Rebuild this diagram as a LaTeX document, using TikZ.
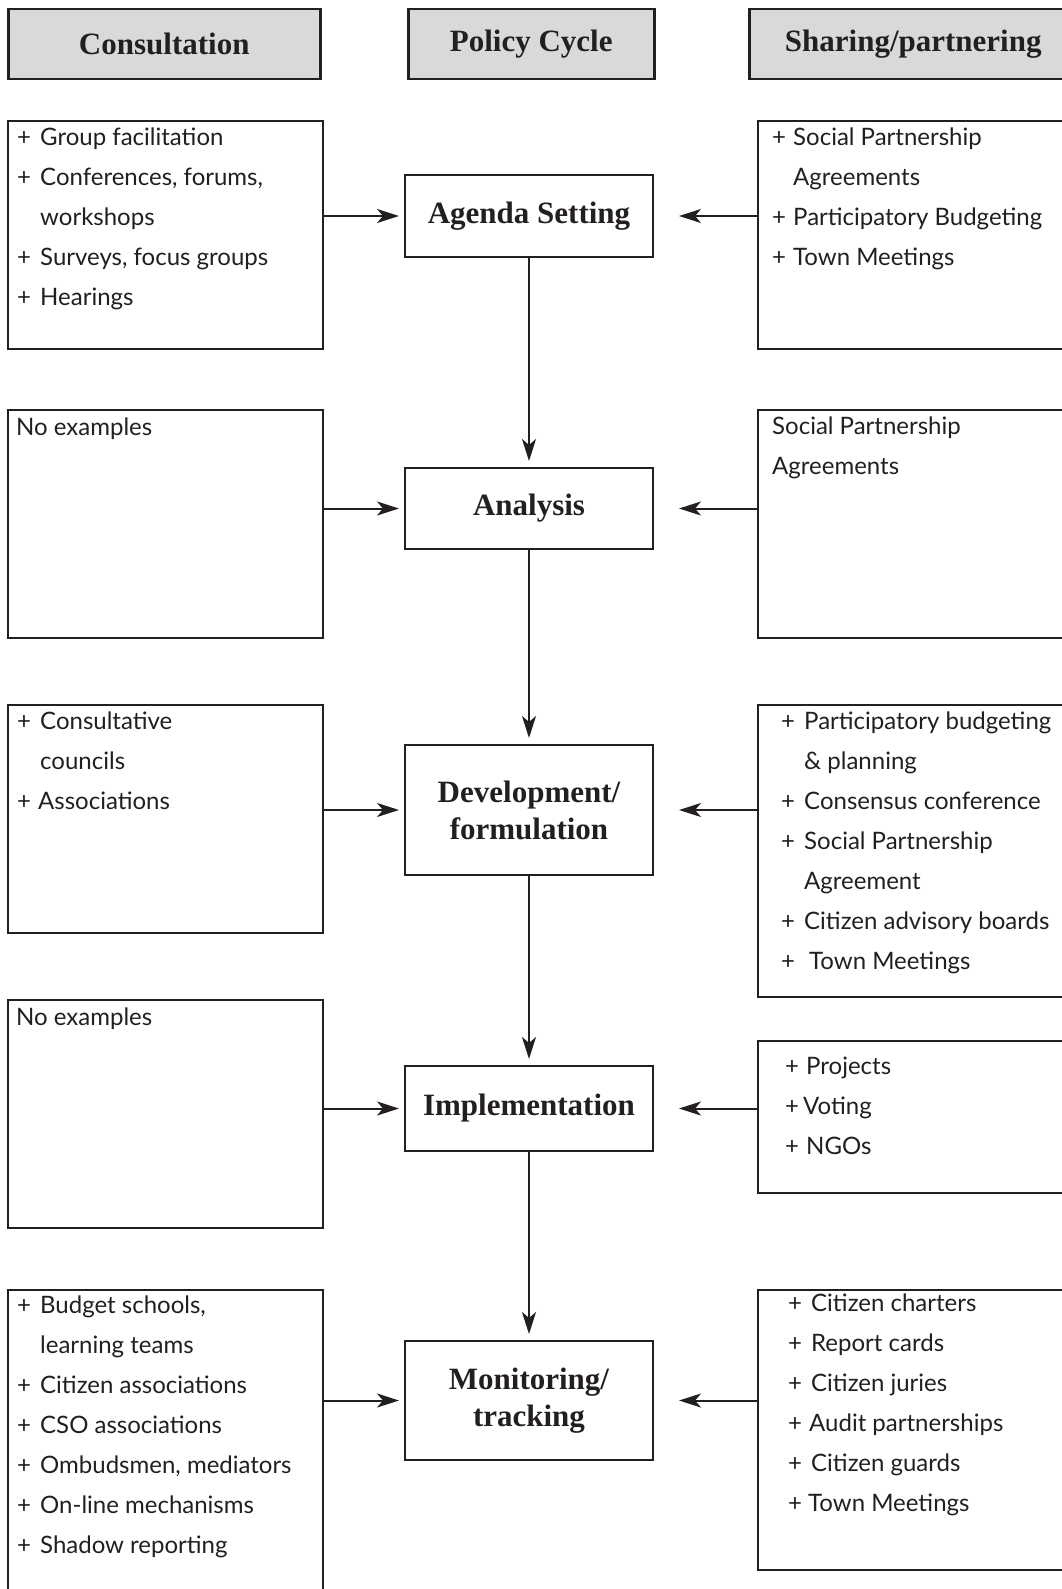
\documentclass[tikz,border=0pt]{standalone}
\usepackage{fontspec}
\newfontfamily\lato{Lato}
\newfontfamily\serifhd{Liberation Serif}
\usetikzlibrary{positioning,arrows.meta}
\definecolor{inkblack}{RGB}{35,31,32}
\definecolor{hdrgray}{RGB}{216,217,219}
\newcommand{\plusitem}[1][23pt]{\makebox[#1][l]{+}}
\newcommand{\indentline}[1][23pt]{\hspace*{#1}}
\tikzset{
  hdrbox/.style={draw=inkblack, line width=2.5pt, fill=hdrgray, inner sep=0pt, anchor=north west,
    text=inkblack, font=\serifhd\bfseries\fontsize{31}{37}\selectfont},
  stagebox/.style={draw=inkblack, line width=2pt, minimum width=248pt, inner sep=0pt, anchor=north,
    align=center, text=inkblack, font=\serifhd\bfseries\fontsize{31}{37}\selectfont},
  listbox/.style={draw=inkblack, line width=2pt, inner sep=0pt, anchor=north west},
  listtext/.style={anchor=north west, inner sep=0pt, align=left, text=inkblack,
    font=\lato\fontsize{24}{40}\selectfont, execute at begin node=\rule{0pt}{18.5pt}},
  arr/.style={draw=inkblack, line width=2pt, -{Stealth[length=22pt,width=14pt,inset=6pt]}}
}
\begin{document}
\begin{tikzpicture}[x=1pt,y=-1pt]
    \useasboundingbox (0,0) rectangle (1062,1589);
    \clip (0,0) rectangle (1062,1589);

    % Column headers
    \node[hdrbox, minimum width=312pt, minimum height=70pt] (hdrcons) at (7,8) {Consultation};
    \node[hdrbox, minimum width=246pt, minimum height=70pt] (hdrpolicy) at (407,8) {Policy Cycle};
    \node[hdrbox, minimum width=328pt, minimum height=70pt] (hdrshare) at (748,8) {Sharing/partnering};

    % Policy cycle stages
    \node[stagebox, minimum height=82pt] (agenda) at (529,174) {Agenda Setting};
    \node[stagebox, minimum height=81pt] (analysis) at (529,467) {Analysis};
    \node[stagebox, minimum height=130pt] (devel) at (529,744) {Development/\\formulation};
    \node[stagebox, minimum height=85pt] (implem) at (529,1065) {Implementation};
    \node[stagebox, minimum height=119pt] (monit) at (529,1340) {Monitoring/\\tracking};

    % Consultation boxes
    \node[listbox, minimum width=315pt, minimum height=228pt] (cons1) at (7,120) {};
    \node[listbox, minimum width=315pt, minimum height=228pt] (cons2) at (7,409) {};
    \node[listbox, minimum width=315pt, minimum height=228pt] (cons3) at (7,704) {};
    \node[listbox, minimum width=315pt, minimum height=228pt] (cons4) at (7,999) {};
    \node[listbox, minimum width=315pt, minimum height=400pt] (cons5) at (7,1289) {};

    % Sharing/partnering boxes
    \node[listbox, minimum width=330pt, minimum height=228pt] (share1) at (757,120) {};
    \node[listbox, minimum width=330pt, minimum height=228pt] (share2) at (757,409) {};
    \node[listbox, minimum width=330pt, minimum height=292pt] (share3) at (757,704) {};
    \node[listbox, minimum width=330pt, minimum height=152pt] (share4) at (757,1040) {};
    \node[listbox, minimum width=330pt, minimum height=280pt] (share5) at (757,1289) {};

    % Box texts
    \node[listtext] (cons1txt) at ([xshift=10pt,yshift=-8pt]cons1.north west)
      {\plusitem Group facilitation\\ \plusitem Conferences, forums,\\ \indentline workshops\\
       \plusitem Surveys, focus groups\\ \plusitem Hearings};
    \node[listtext] (cons2txt) at ([xshift=9pt,yshift=-8pt]cons2.north west) {No examples};
    \node[listtext] (cons3txt) at ([xshift=10pt,yshift=-8pt]cons3.north west)
      {\plusitem Consultative\\ \indentline councils\\ \plusitem[21pt]Associations};
    \node[listtext] (cons4txt) at ([xshift=9pt,yshift=-8pt]cons4.north west) {No examples};
    \node[listtext] (cons5txt) at ([xshift=10pt,yshift=-7pt]cons5.north west)
      {\plusitem Budget schools,\\ \indentline learning teams\\ \plusitem Citizen associations\\
       \plusitem CSO associations\\ \plusitem Ombudsmen, mediators\\ \plusitem On-line mechanisms\\
       \plusitem Shadow reporting};

    \node[listtext] (share1txt) at ([xshift=15pt,yshift=-8pt]share1.north west)
      {\plusitem[21pt]Social Partnership\\ \indentline[21pt]Agreements\\
       \plusitem[21pt]Participatory Budgeting\\ \plusitem[21pt]Town Meetings};
    \node[listtext] (share2txt) at ([xshift=15pt,yshift=-8pt]share2.north west)
      {Social Partnership\\ Agreements};
    \node[listtext] (share3txt) at ([xshift=24pt,yshift=-8pt]share3.north west)
      {\plusitem Participatory budgeting\\ \indentline \& planning\\ \plusitem Consensus conference\\
       \plusitem Social Partnership\\ \indentline Agreement\\ \plusitem Citizen advisory boards\\
       \plusitem[28pt]Town Meetings};
    \node[listtext] (share4txt) at ([xshift=28pt,yshift=-17pt]share4.north west)
      {\plusitem[21pt]Projects\\ \plusitem[18pt]Voting\\ \plusitem[21pt]NGOs};
    \node[listtext] (share5txt) at ([xshift=31pt,yshift=-5pt]share5.north west)
      {\plusitem Citizen charters\\ \plusitem Report cards\\ \plusitem Citizen juries\\
       \plusitem[21pt]Audit partnerships\\ \plusitem Citizen guards\\ \plusitem[20pt]Town Meetings};

    % Arrows into the stages
    \foreach \lft/\rgt/\stg in {cons1/share1/agenda, cons2/share2/analysis, cons3/share3/devel,
                                cons4/share4/implem, cons5/share5/monit} {
      \draw[arr] (\lft.east |- \stg.west) -- ([xshift=-5pt]\stg.west);
      \draw[arr] (\rgt.west |- \stg.east) -- ([xshift=25pt]\stg.east);
    }

    % Stage to stage
    \draw[arr] (agenda.south) -- ([yshift=6pt]analysis.north);
    \draw[arr] (analysis.south) -- ([yshift=6pt]devel.north);
    \draw[arr] (devel.south) -- ([yshift=6pt]implem.north);
    \draw[arr] (implem.south) -- ([yshift=6pt]monit.north);
\end{tikzpicture}
\end{document}
